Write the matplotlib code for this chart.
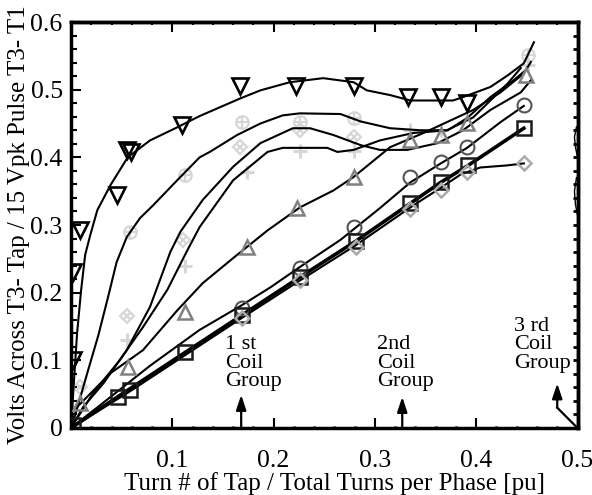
import matplotlib
matplotlib.use("Agg")
import matplotlib.pyplot as plt
from matplotlib.ticker import MultipleLocator, NullFormatter

plt.rcParams['font.family'] = ['Liberation Serif', 'DejaVu Serif']

# ---------------- data ----------------
# curve 1 (inverted triangles)
l1_x = [0, 0.003, 0.006, 0.010, 0.014, 0.019, 0.026, 0.039, 0.056, 0.078, 0.103, 0.127, 0.167, 0.187,
        0.216, 0.249, 0.279, 0.292, 0.315, 0.335, 0.377, 0.387, 0.414, 0.431, 0.447, 0.457]
l1_y = [0, 0.071, 0.140, 0.204, 0.256, 0.285, 0.322, 0.359, 0.400, 0.425, 0.443, 0.461, 0.487, 0.499,
        0.511, 0.517, 0.511, 0.499, 0.492, 0.484, 0.484, 0.489, 0.504, 0.521, 0.539, 0.570]
tri_dn_x = [0.002, 0.002, 0.009, 0.045, 0.055, 0.059, 0.110, 0.167, 0.222, 0.279, 0.333, 0.365, 0.391]
tri_dn_y = [0.100, 0.230, 0.292, 0.344, 0.411, 0.408, 0.448, 0.505, 0.505, 0.505, 0.489, 0.489, 0.480]

# curve 2
l2_x = [0, 0.007, 0.017, 0.027, 0.037, 0.045, 0.055, 0.068, 0.081, 0.108, 0.127, 0.137, 0.164, 0.187,
        0.209, 0.226, 0.266, 0.286, 0.315, 0.345, 0.371, 0.397, 0.414, 0.431, 0.444]
l2_y = [0, 0.034, 0.086, 0.137, 0.196, 0.245, 0.282, 0.310, 0.329, 0.371, 0.400, 0.408, 0.433, 0.450,
        0.462, 0.465, 0.464, 0.453, 0.443, 0.440, 0.440, 0.459, 0.484, 0.509, 0.532]

# curve 3
l3_x = [0, 0.012, 0.032, 0.055, 0.078, 0.098, 0.108, 0.130, 0.160, 0.187, 0.219, 0.236, 0.259, 0.286,
        0.305, 0.332, 0.362, 0.387, 0.414, 0.444, 0.454]
l3_y = [0, 0.031, 0.066, 0.115, 0.179, 0.260, 0.290, 0.337, 0.386, 0.421, 0.443, 0.443, 0.433, 0.418,
        0.411, 0.411, 0.421, 0.440, 0.470, 0.496, 0.514]

# curve 4
l4_x = [0, 0.022, 0.048, 0.071, 0.095, 0.115, 0.127, 0.160, 0.194, 0.209, 0.253, 0.263, 0.279, 0.305,
        0.338, 0.372, 0.391, 0.414, 0.437, 0.449]
l4_y = [0, 0.052, 0.100, 0.149, 0.204, 0.263, 0.297, 0.366, 0.408, 0.414, 0.414, 0.408, 0.411, 0.425,
        0.436, 0.440, 0.458, 0.489, 0.514, 0.529]

# curve 5 (gray up triangles)
l5_x = [0, 0.006, 0.039, 0.071, 0.105, 0.130, 0.160, 0.194, 0.226, 0.259, 0.279, 0.315, 0.348, 0.397,
        0.424, 0.447, 0.454]
l5_y = [0, 0.031, 0.081, 0.115, 0.174, 0.214, 0.251, 0.292, 0.326, 0.351, 0.371, 0.415, 0.436, 0.470,
        0.496, 0.524, 0.541]
tri_up_x = [0.009, 0.056, 0.113, 0.174, 0.223, 0.279, 0.335, 0.365, 0.391, 0.449]
tri_up_y = [0.037, 0.090, 0.171, 0.267, 0.325, 0.371, 0.425, 0.433, 0.451, 0.521]

# curve 6 (circles)
l6_x = [0, 0.029, 0.078, 0.127, 0.167, 0.197, 0.226, 0.266, 0.305, 0.335, 0.365, 0.391, 0.424, 0.447]
l6_y = [0, 0.034, 0.092, 0.145, 0.180, 0.208, 0.238, 0.278, 0.325, 0.363, 0.391, 0.414, 0.452, 0.476]
circ_x = [0.169, 0.226, 0.279, 0.335, 0.365, 0.391, 0.447]
circ_y = [0.177, 0.236, 0.297, 0.371, 0.393, 0.415, 0.477]

# curve 7 (squares, thick)
l7_x = [0, 0.046, 0.113, 0.169, 0.226, 0.281, 0.335, 0.365, 0.392, 0.447]
l7_y = [0, 0.046, 0.112, 0.167, 0.223, 0.276, 0.332, 0.363, 0.388, 0.443]
sq_x = [0.002, 0.046, 0.058, 0.113, 0.169, 0.226, 0.281, 0.335, 0.365, 0.392, 0.447]
sq_y = [0.004, 0.046, 0.056, 0.112, 0.167, 0.223, 0.276, 0.332, 0.363, 0.388, 0.443]

# curve 8 (diamonds)
l8_x = [0, 0.058, 0.113, 0.169, 0.226, 0.281, 0.335, 0.365, 0.385, 0.404, 0.430, 0.447]
l8_y = [0, 0.054, 0.108, 0.163, 0.218, 0.270, 0.326, 0.355, 0.375, 0.385, 0.388, 0.391]
dia_x = [0.169, 0.226, 0.281, 0.335, 0.365, 0.391, 0.447]
dia_y = [0.162, 0.219, 0.267, 0.323, 0.352, 0.378, 0.391]

# faint markers
fo_x = [0.058, 0.113, 0.169, 0.226, 0.279, 0.451]
fo_y = [0.290, 0.374, 0.452, 0.452, 0.458, 0.551]
fd_x = [0.009, 0.055, 0.111, 0.167, 0.226, 0.279]
fd_y = [0.060, 0.165, 0.278, 0.415, 0.441, 0.430]
fp_x = [0.055, 0.113, 0.174, 0.226, 0.279, 0.335, 0.365, 0.451]
fp_y = [0.130, 0.240, 0.378, 0.410, 0.410, 0.440, 0.440, 0.536]

# fragments at right edge
fr1_x = [0.499, 0.497, 0.498, 0.5]
fr1_y = [0.445, 0.430, 0.415, 0.400]
fr2_x = [0.499, 0.497, 0.498, 0.5]
fr2_y = [0.370, 0.350, 0.330, 0.315]

xticks = [0.1, 0.2, 0.3, 0.4, 0.5]
xticklabels = ['0.1', '0.2', '0.3', '0.4', '0.5']
yticks = [0, 0.1, 0.2, 0.3, 0.4, 0.5, 0.6]
yticklabels = ['0', '0.1', '0.2', '0.3', '0.4', '0.5', '0.6']

# ---------------- figure ----------------
fig = plt.figure(figsize=(5.92, 4.95), dpi=100)
ax = fig.add_axes([71/592, 67/495, 506.5/592, 406/495])

lw = 1.5
for xs, ys in [(l1_x, l1_y), (l2_x, l2_y), (l3_x, l3_y), (l4_x, l4_y),
               (l5_x, l5_y), (l6_x, l6_y), (l8_x, l8_y)]:
    ax.plot(xs, ys, color='black', lw=lw, zorder=3)
ax.plot(l7_x, l7_y, color='black', lw=2.6, zorder=3)
ax.plot(fr1_x, fr1_y, color='black', lw=1.0, zorder=3)
ax.plot(fr2_x, fr2_y, color='black', lw=1.0, zorder=3)

fc = '#d6d6d6'
ax.plot(fo_x, fo_y, 'o', mfc='none', mec=fc, ms=9, mew=1.6, zorder=2)
ax.plot(fo_x, fo_y, '+', mec=fc, ms=9, mew=1.6, zorder=2)
ax.plot(fd_x, fd_y, 'D', mfc='none', mec=fc, ms=7, mew=1.6, zorder=2)
ax.plot(fd_x, fd_y, 'x', mec=fc, ms=6, mew=1.6, zorder=2)
ax.plot(fp_x, fp_y, '+', mec=fc, ms=10, mew=2.2, zorder=2)

ax.plot(tri_dn_x, tri_dn_y, 'v', mfc='none', mec='black', ms=11, mew=1.9, zorder=4)
ax.plot(tri_up_x, tri_up_y, '^', mfc='none', mec='#808080', ms=10, mew=1.8, zorder=4)
ax.plot(circ_x, circ_y, 'o', mfc='none', mec='#555555', ms=10, mew=1.5, zorder=4)
ax.plot(sq_x, sq_y, 's', mfc='none', mec='#1a1a1a', ms=10, mew=1.8, zorder=4)
ax.plot(dia_x, dia_y, 'D', mfc='none', mec='#aaaaaa', ms=7.5, mew=1.8, zorder=4)

ax.set_xlim(0, 0.5)
ax.set_ylim(0, 0.6)
ax.set_xticks(xticks)
ax.set_xticklabels(xticklabels)
ax.set_yticks(yticks)
ax.set_yticklabels(yticklabels)
ax.xaxis.set_minor_locator(MultipleLocator(0.02))
ax.yaxis.set_minor_locator(MultipleLocator(0.02))

for s in ax.spines.values():
    s.set_linewidth(2.5)

ax.tick_params(axis='both', which='major', direction='in', length=7, width=1.5, labelsize=18.5,
               top=False, right=False)
ax.tick_params(axis='x', which='major', pad=15.5)
ax.tick_params(axis='y', which='major', pad=6)
ax.tick_params(axis='x', which='minor', direction='in', length=1.5, width=2, top=False)
ax.tick_params(axis='y', which='minor', direction='in', length=4.5, width=1.5, right=False)

secx = ax.secondary_xaxis('top')
secx.set_xticks(xticks)
secx.xaxis.set_minor_locator(MultipleLocator(0.02))
secx.xaxis.set_major_formatter(NullFormatter())
secx.tick_params(which='major', direction='in', length=7, width=1.5)
secx.tick_params(which='minor', direction='in', length=2.5, width=1.5)
secx.spines['top'].set_linewidth(2.5)

secy = ax.secondary_yaxis('right')
secy.set_yticks(yticks)
secy.yaxis.set_minor_locator(MultipleLocator(0.02))
secy.yaxis.set_major_formatter(NullFormatter())
secy.tick_params(which='major', direction='in', length=3.5, width=2)
secy.tick_params(which='minor', direction='in', length=3.5, width=2)
secy.spines['right'].set_linewidth(2.5)

ax.set_xlabel('Turn # of Tap / Total Turns per Phase [pu]', fontsize=18, va='top')
ax.xaxis.set_label_coords(0.521, (428 - 472) / 406)
ax.set_ylabel('Volts Across T3- Tap / 15 Vpk Pulse T3- T1', fontsize=18, labelpad=0)

# annotations
tk = dict(fontsize=16, ha='left', va='top', linespacing=0.95)
ax.text(0.152, 0.137, '1 st\nCoil\nGroup', **tk)
ax.text(0.302, 0.137, '2nd\nCoil\nGroup', **tk)
ax.text(0.437, 0.164, '3 rd\nCoil\nGroup', **tk)

ap = dict(arrowstyle='-|>,head_length=0.9,head_width=0.3', color='black', lw=1.6, shrinkA=0, shrinkB=0)
ax.annotate('', xy=(0.168, 0.049), xytext=(0.168, 0.0), arrowprops=ap)
ax.annotate('', xy=(0.327, 0.046), xytext=(0.327, 0.0), arrowprops=ap)
ax.plot([0.5, 0.480], [0.0, 0.030], color='black', lw=1.6)
ax.annotate('', xy=(0.480, 0.066), xytext=(0.480, 0.030), arrowprops=ap)

fig.savefig('out.png', dpi=100)
